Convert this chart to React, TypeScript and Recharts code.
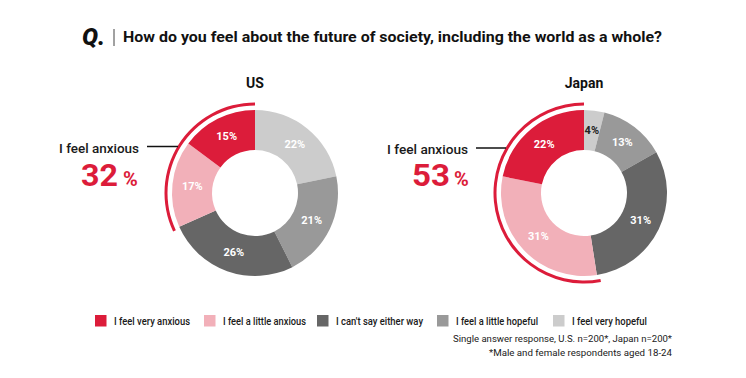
import React from 'react';
import { PieChart, Pie, Cell } from 'recharts';

const categories = ['I feel very hopeful', 'I feel a little hopeful', "I can't say either way", 'I feel a little anxious', 'I feel very anxious'];
const usValues = [22, 21, 26, 17, 15];
const japanValues = [4, 13, 31, 31, 22];
const colors = ['#CCCCCC', '#999999', '#666666', '#F2B0B9', '#DC1C3A'];
const legendOrder = [4, 3, 2, 1, 0];
const countries = ['US', 'Japan'];
const titleText = 'How do you feel about the future of society, including the world as a whole?';
const noteLines = ['Single answer response, U.S. n=200*, Japan n=200*', '*Male and female respondents aged 18-24'];

const RED = '#DC1C3A';
const FONT = 'Roboto, "Noto Sans", sans-serif';
const TXT = '#1a1a1a';

const usData = categories.map((name, i) => ({ name, value: usValues[i] }));
const jpData = categories.map((name, i) => ({ name, value: japanValues[i] }));
const usAnx = usValues[3] + usValues[4];
const jpAnx = japanValues[3] + japanValues[4];
const usArc = [{ name: 'anxious', value: usAnx }, { name: 'rest', value: 100 - usAnx }];
const jpArc = [{ name: 'anxious', value: jpAnx }, { name: 'rest', value: 100 - jpAnx }];

const RAD = Math.PI / 180;
const renderLabel = (p: any) => {
  const r = (p.innerRadius + p.outerRadius) / 2;
  const x = p.cx + r * Math.cos(-p.midAngle * RAD);
  const y = p.cy + r * Math.sin(-p.midAngle * RAD);
  return (
    <text x={x} y={y} textAnchor="middle" dominantBaseline="central" fill={p.value < 10 ? '#222' : '#fff'}
      fontFamily={FONT} fontWeight={700} fontSize={11}>
      {`${p.value}%`}
    </text>
  );
};

const US_CX = 255, JP_CX = 584, CY = 193;
const IN_R = 43, OUT_R = 83;

const legendX = [95, 204, 317, 437, 553];
const legendW = [76, 83, 87, 82, 75];

export default function App() {
  return (
    <div style={{ position: 'absolute', left: 0, top: 0, width: 746, height: 378, background: '#fff' }}>
      <PieChart width={746} height={378} margin={{ top: 0, right: 0, bottom: 0, left: 0 }}>
        <Pie data={usData} dataKey="value" cx={US_CX} cy={CY} innerRadius={IN_R} outerRadius={OUT_R}
          startAngle={90} endAngle={-270} stroke="none" isAnimationActive={false} label={renderLabel} labelLine={false}>
          {usData.map((d, i) => <Cell key={d.name} fill={colors[i]} />)}
        </Pie>
        <Pie data={jpData} dataKey="value" cx={JP_CX} cy={CY} innerRadius={IN_R} outerRadius={OUT_R}
          startAngle={90} endAngle={-270} stroke="none" isAnimationActive={false} label={renderLabel} labelLine={false}>
          {jpData.map((d, i) => <Cell key={d.name} fill={colors[i]} />)}
        </Pie>
        <Pie data={usArc} dataKey="value" cx={US_CX} cy={CY} innerRadius={87.5} outerRadius={90.5}
          startAngle={90} endAngle={450} stroke="none" isAnimationActive={false}>
          <Cell fill={RED} />
          <Cell fill="none" />
        </Pie>
        <Pie data={jpArc} dataKey="value" cx={JP_CX} cy={CY} innerRadius={87.5} outerRadius={90.5}
          startAngle={90} endAngle={450} stroke="none" isAnimationActive={false}>
          <Cell fill={RED} />
          <Cell fill="none" />
        </Pie>
      </PieChart>
      <svg width={746} height={378} style={{ position: 'absolute', left: 0, top: 0, pointerEvents: 'none' }}>
        <text x={82} y={45} fontFamily={FONT} fontWeight={900} fontStyle="italic" fontSize={23} fill="#111"
          textLength={23} lengthAdjust="spacingAndGlyphs">Q.</text>
        <line x1={114} x2={114} y1={29} y2={46} stroke="#444" strokeWidth={1} />
        <text x={123} y={41.5} fontFamily={FONT} fontWeight={700} fontSize={15} fill="#111"
          textLength={539} lengthAdjust="spacingAndGlyphs">{titleText}</text>

        <text x={US_CX} y={87.5} textAnchor="middle" fontFamily={FONT} fontWeight={700} fontSize={14} fill="#111">{countries[0]}</text>
        <text x={JP_CX} y={87.5} textAnchor="middle" fontFamily={FONT} fontWeight={700} fontSize={14} fill="#111">{countries[1]}</text>

        <text x={59} y={152.5} fontFamily={FONT} fontWeight={500} fontSize={13} fill={TXT}
          textLength={80} lengthAdjust="spacingAndGlyphs">I feel anxious</text>
        <line x1={147} x2={178} y1={146.5} y2={146.5} stroke="#111" strokeWidth={1.5} />
        <text x={81} y={186} fontFamily={FONT} fontWeight={700} fontSize={31} fill={RED}
          textLength={37} lengthAdjust="spacingAndGlyphs">{usAnx}</text>
        <text x={123} y={186} fontFamily={FONT} fontWeight={700} fontSize={20} fill={RED}>%</text>

        <text x={387} y={154} fontFamily={FONT} fontWeight={500} fontSize={13} fill={TXT}
          textLength={81} lengthAdjust="spacingAndGlyphs">I feel anxious</text>
        <line x1={476} x2={506} y1={148} y2={148} stroke="#111" strokeWidth={1.5} />
        <text x={412} y={186} fontFamily={FONT} fontWeight={700} fontSize={31} fill={RED}
          textLength={38} lengthAdjust="spacingAndGlyphs">{jpAnx}</text>
        <text x={454} y={186} fontFamily={FONT} fontWeight={700} fontSize={20} fill={RED}>%</text>

        {legendOrder.map((ci, k) => (
          <g key={ci}>
            <rect x={legendX[k]} y={315} width={11.5} height={11.5} fill={colors[ci]} />
            <text x={legendX[k] + 19} y={325} fontFamily={FONT} fontWeight={500} fontSize={11} fill={TXT}
              textLength={legendW[k]} lengthAdjust="spacingAndGlyphs">{categories[ci]}</text>
          </g>
        ))}

        <text x={672} y={342} textAnchor="end" fontFamily={FONT} fontSize={9.5} fill={TXT}
          textLength={219} lengthAdjust="spacingAndGlyphs">{noteLines[0]}</text>
        <text x={672} y={356} textAnchor="end" fontFamily={FONT} fontSize={9.5} fill={TXT}
          textLength={183} lengthAdjust="spacingAndGlyphs">{noteLines[1]}</text>
      </svg>
    </div>
  );
}
